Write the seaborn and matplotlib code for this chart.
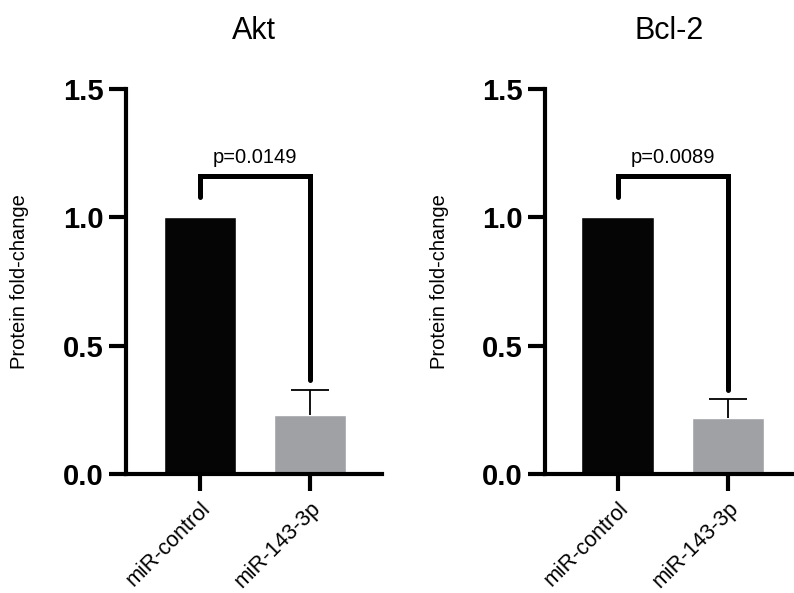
import matplotlib

matplotlib.use('Agg')
import matplotlib.pyplot as plt
import numpy as np
import pandas as pd
import seaborn as sns

# values
groups = ['miR-control', 'miR-143-3p']
proteins = ['Akt', 'Bcl-2']
akt_mean = [1.0, 0.23]
akt_sd = [0.0, 0.097]
bcl2_mean = [1.0, 0.219]
bcl2_sd = [0.0, 0.075]
p_values = ['p=0.0149', 'p=0.0089']
# bracket: left leg end, bar height, right leg end
akt_bracket = [1.08, 1.162, 0.366]
bcl2_bracket = [1.08, 1.16, 0.327]

bar_colors = ['#050505', '#a0a1a5']

sns.set_style('ticks', {'text.color': 'black', 'axes.labelcolor': 'black',
                        'axes.edgecolor': 'black', 'xtick.color': 'black',
                        'ytick.color': 'black'})
plt.rcParams['font.family'] = ['Liberation Sans', 'DejaVu Sans']


def draw_panel(ax, title, means, sds, bracket, ptext, xlim, label_x):
    df = pd.DataFrame({'group': groups, 'value': means})
    sns.barplot(data=df, x='group', y='value', hue='group', palette=bar_colors,
                width=0.66, errorbar=None, legend=False, ax=ax, saturation=1)
    # upward-only SD error bar (GraphPad style)
    xs = np.arange(len(groups))
    tops = np.array(means) + np.array(sds)
    has_err = np.array(sds) > 0
    ax.vlines(xs[has_err], np.array(means)[has_err], tops[has_err], color='black', lw=1.3)
    ax.hlines(tops[has_err], xs[has_err] - 0.17, xs[has_err] + 0.17, color='black', lw=1.3)

    ax.plot([0, 0, 1, 1], [bracket[0], bracket[1], bracket[1], bracket[2]],
            color='black', lw=3.6, solid_capstyle='round', solid_joinstyle='miter',
            clip_on=False)
    ax.text(0.5, 1.21, ptext, ha='center', va='baseline', fontsize=14.5, color='black')

    ax.set_ylim(0, 1.5)
    ax.set_xlim(*xlim)
    ax.set_yticks([0.0, 0.5, 1.0, 1.5])
    ax.set_yticklabels(['0.0', '0.5', '1.0', '1.5'], fontweight='bold', fontsize=21)
    ax.set_xticks(xs)
    ax.set_xticklabels(groups, rotation=45, ha='right', rotation_mode='anchor', fontsize=15.5)
    ax.tick_params(axis='both', length=12, width=3, direction='out', pad=4, colors='black')
    ax.tick_params(axis='x', pad=5)
    ax.set_xlabel('')
    ax.set_ylabel('Protein fold-change', fontsize=14.5, color='black')
    ax.yaxis.set_label_coords(label_x, 0.5)
    ax.set_title(title, fontsize=22, pad=36, color='black')
    for side in ['left', 'bottom']:
        ax.spines[side].set_linewidth(3)
        ax.spines[side].set_color('black')
    sns.despine(ax=ax)


fig = plt.figure(figsize=(7.94, 5.93), dpi=100)
ax1 = fig.add_axes([126 / 794, 119 / 593, 256 / 794, 385 / 593])
ax2 = fig.add_axes([545 / 794, 119 / 593, 249 / 794, 385 / 593])

draw_panel(ax1, proteins[0], akt_mean, akt_sd, akt_bracket, p_values[0], (-0.673, 1.655), -0.38)
draw_panel(ax2, proteins[1], bcl2_mean, bcl2_sd, bcl2_bracket, p_values[1], (-0.66, 1.6), -0.385)

plt.savefig('out.png', dpi=100)
plt.close()
